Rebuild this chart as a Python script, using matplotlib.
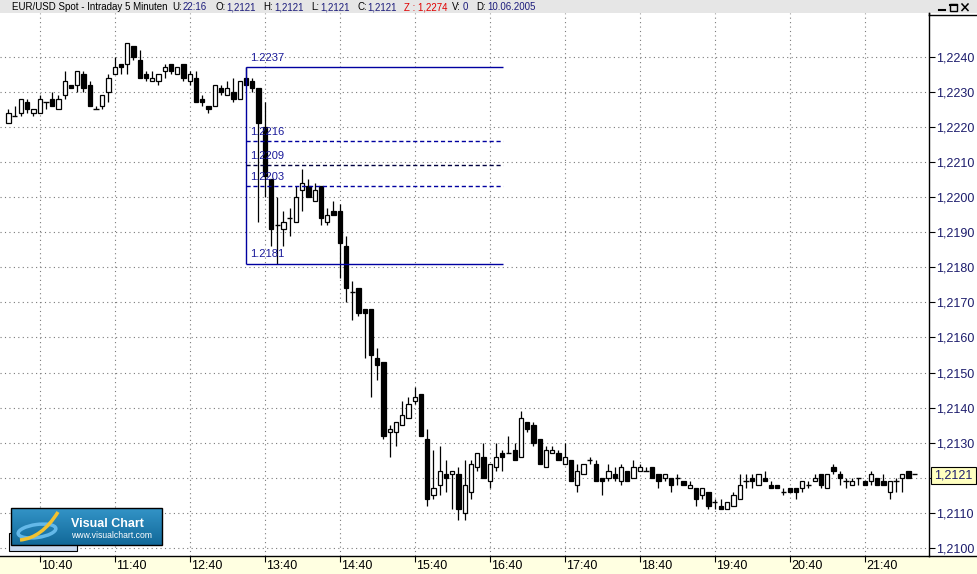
import numpy as np
import matplotlib
matplotlib.use("Agg")
import matplotlib.pyplot as plt
from matplotlib.patches import Rectangle, Ellipse
from matplotlib.path import Path
from matplotlib.patches import PathPatch
from matplotlib.ticker import FuncFormatter

plt.rcParams['font.family'] = ['Liberation Sans', 'DejaVu Sans']

# EUR/USD 5 minute bars, 10.06.2005
opens = [1.2221, 1.2223, 1.2224, 1.2227, 1.2224, 1.2224, 1.2227, 1.2228, 1.2225, 1.2229,
         1.2232, 1.2232, 1.2235, 1.2232, 1.2225, 1.2226, 1.2230, 1.2235, 1.2238, 1.2238,
         1.2243, 1.2239, 1.2235, 1.2233, 1.2233, 1.2236, 1.2238, 1.2235, 1.2238, 1.2233,
         1.2234, 1.2228, 1.2226, 1.2226, 1.2231, 1.2229, 1.2230, 1.2228, 1.2234, 1.2233,
         1.2231, 1.2220, 1.2205, 1.2192, 1.2191, 1.2194, 1.2193, 1.2202, 1.2203, 1.2199,
         1.2203, 1.2193, 1.2196, 1.2196, 1.2186, 1.2173, 1.2174, 1.2168, 1.2168, 1.2154,
         1.2153, 1.2133, 1.2133, 1.2135, 1.2137, 1.2142, 1.2144, 1.2131, 1.2115, 1.2118,
         1.2121, 1.2121, 1.2121, 1.2110, 1.2116, 1.2123, 1.2126, 1.2119, 1.2123, 1.2127,
         1.2127, 1.2128, 1.2126, 1.2136, 1.2135, 1.2131, 1.2123, 1.2127, 1.2127, 1.2124,
         1.2125, 1.2118, 1.2121, 1.2125, 1.2124, 1.2120, 1.2120, 1.2121, 1.2119, 1.2122,
         1.2120, 1.2122, 1.2122, 1.2123, 1.2121, 1.2120, 1.2120, 1.2120, 1.2119, 1.2117,
         1.2117, 1.2115, 1.2116, 1.2113, 1.2112, 1.2111, 1.2112, 1.2114, 1.2119, 1.2120,
         1.2118, 1.2120, 1.2118, 1.2118, 1.2116, 1.2117, 1.2117, 1.2117, 1.2118, 1.2119,
         1.2121, 1.2117, 1.2123, 1.2121, 1.2119, 1.2118, 1.2120, 1.2119, 1.2119, 1.2120,
         1.2119, 1.2116, 1.2119, 1.2120, 1.2122, 1.2121]
highs = [1.2225, 1.2226, 1.2228, 1.2228, 1.2225, 1.2229, 1.2227, 1.2230, 1.2229, 1.2236,
         1.2232, 1.2236, 1.2236, 1.2233, 1.2226, 1.2229, 1.2235, 1.2240, 1.2238, 1.2244,
         1.2243, 1.2242, 1.2236, 1.2236, 1.2235, 1.2238, 1.2238, 1.2237, 1.2238, 1.2236,
         1.2236, 1.2229, 1.2226, 1.2232, 1.2232, 1.2233, 1.2234, 1.2233, 1.2237, 1.2234,
         1.2231, 1.2227, 1.2205, 1.2200, 1.2196, 1.2197, 1.2203, 1.2208, 1.2205, 1.2204,
         1.2203, 1.2197, 1.2199, 1.2198, 1.2189, 1.2176, 1.2174, 1.2168, 1.2168, 1.2157,
         1.2153, 1.2135, 1.2136, 1.2142, 1.2143, 1.2146, 1.2144, 1.2134, 1.2128, 1.2129,
         1.2125, 1.2122, 1.2123, 1.2125, 1.2125, 1.2127, 1.2130, 1.2124, 1.2130, 1.2128,
         1.2132, 1.2130, 1.2139, 1.2136, 1.2136, 1.2131, 1.2129, 1.2129, 1.2128, 1.2130,
         1.2125, 1.2124, 1.2124, 1.2126, 1.2125, 1.2120, 1.2124, 1.2123, 1.2124, 1.2122,
         1.2125, 1.2124, 1.2123, 1.2123, 1.2121, 1.2121, 1.2120, 1.2121, 1.2119, 1.2119,
         1.2117, 1.2117, 1.2116, 1.2114, 1.2114, 1.2113, 1.2116, 1.2121, 1.2121, 1.2121,
         1.2121, 1.2122, 1.2119, 1.2118, 1.2117, 1.2117, 1.2117, 1.2119, 1.2119, 1.2121,
         1.2121, 1.2121, 1.2124, 1.2122, 1.2120, 1.2120, 1.2120, 1.2119, 1.2122, 1.2120,
         1.2121, 1.2119, 1.2120, 1.2121, 1.2122, 1.2121]
lows = [1.2221, 1.2223, 1.2223, 1.2224, 1.2223, 1.2224, 1.2225, 1.2226, 1.2225, 1.2228,
        1.2231, 1.2230, 1.2230, 1.2226, 1.2225, 1.2225, 1.2227, 1.2235, 1.2235, 1.2235,
        1.2239, 1.2234, 1.2233, 1.2233, 1.2232, 1.2234, 1.2235, 1.2235, 1.2233, 1.2232,
        1.2227, 1.2226, 1.2224, 1.2226, 1.2229, 1.2229, 1.2227, 1.2228, 1.2232, 1.2230,
        1.2193, 1.2200, 1.2186, 1.2181, 1.2186, 1.2189, 1.2193, 1.2196, 1.2200, 1.2199,
        1.2192, 1.2192, 1.2195, 1.2177, 1.2170, 1.2165, 1.2166, 1.2154, 1.2143, 1.2148,
        1.2131, 1.2126, 1.2129, 1.2135, 1.2137, 1.2141, 1.2132, 1.2112, 1.2114, 1.2115,
        1.2116, 1.2111, 1.2108, 1.2108, 1.2114, 1.2122, 1.2120, 1.2117, 1.2122, 1.2122,
        1.2127, 1.2125, 1.2126, 1.2133, 1.2129, 1.2124, 1.2123, 1.2127, 1.2125, 1.2124,
        1.2119, 1.2116, 1.2121, 1.2124, 1.2119, 1.2115, 1.2119, 1.2119, 1.2118, 1.2119,
        1.2120, 1.2122, 1.2122, 1.2120, 1.2117, 1.2119, 1.2116, 1.2118, 1.2118, 1.2117,
        1.2112, 1.2114, 1.2111, 1.2111, 1.2111, 1.2111, 1.2112, 1.2114, 1.2117, 1.2117,
        1.2118, 1.2119, 1.2117, 1.2117, 1.2115, 1.2116, 1.2114, 1.2116, 1.2117, 1.2119,
        1.2117, 1.2117, 1.2121, 1.2118, 1.2117, 1.2118, 1.2118, 1.2118, 1.2118, 1.2118,
        1.2118, 1.2114, 1.2116, 1.2116, 1.2120, 1.2121]
closes = [1.2224, 1.2223, 1.2228, 1.2225, 1.2225, 1.2228, 1.2227, 1.2226, 1.2228, 1.2233,
          1.2231, 1.2236, 1.2231, 1.2226, 1.2225, 1.2229, 1.2234, 1.2237, 1.2237, 1.2244,
          1.2240, 1.2234, 1.2234, 1.2234, 1.2235, 1.2237, 1.2236, 1.2237, 1.2234, 1.2235,
          1.2227, 1.2227, 1.2225, 1.2232, 1.2230, 1.2231, 1.2228, 1.2233, 1.2232, 1.2231,
          1.2221, 1.2206, 1.2191, 1.2192, 1.2193, 1.2194, 1.2200, 1.2204, 1.2200, 1.2202,
          1.2194, 1.2195, 1.2195, 1.2187, 1.2174, 1.2173, 1.2167, 1.2167, 1.2155, 1.2152,
          1.2132, 1.2134, 1.2136, 1.2138, 1.2141, 1.2143, 1.2132, 1.2114, 1.2117, 1.2122,
          1.2120, 1.2122, 1.2111, 1.2118, 1.2124, 1.2127, 1.2120, 1.2124, 1.2126, 1.2126,
          1.2127, 1.2125, 1.2137, 1.2134, 1.2130, 1.2124, 1.2128, 1.2128, 1.2125, 1.2126,
          1.2119, 1.2122, 1.2124, 1.2125, 1.2119, 1.2119, 1.2122, 1.2120, 1.2123, 1.2119,
          1.2123, 1.2123, 1.2122, 1.2120, 1.2119, 1.2121, 1.2118, 1.2120, 1.2118, 1.2118,
          1.2114, 1.2117, 1.2112, 1.2113, 1.2111, 1.2113, 1.2115, 1.2118, 1.2119, 1.2119,
          1.2121, 1.2119, 1.2117, 1.2117, 1.2116, 1.2116, 1.2116, 1.2119, 1.2118, 1.2120,
          1.2118, 1.2121, 1.2122, 1.2120, 1.2119, 1.2119, 1.2120, 1.2118, 1.2121, 1.2118,
          1.2118, 1.2119, 1.2119, 1.2121, 1.2120, 1.2121]

time_labels = ['10:40', '11:40', '12:40', '13:40', '14:40', '15:40',
               '16:40', '17:40', '18:40', '19:40', '20:40', '21:40']
time_idx = [5, 17, 29, 41, 53, 65, 77, 89, 101, 113, 125, 137]

fib_high = 1.2237
fib_low = 1.2181
fib_levels = [1.2216, 1.2209, 1.2203]
last_price = 1.2121

W, H = 978, 574
fig = plt.figure(figsize=(W / 100, H / 100), dpi=100)
fig.patch.set_facecolor('white')

# background strips (pixel coords)
bg = fig.add_axes([0, 0, 1, 1], zorder=0)
bg.set_xlim(0, W)
bg.set_ylim(H, 0)
bg.axis('off')
bg.add_patch(Rectangle((0, 0), W, 13, fc='#e6e6e6', ec='none'))
bg.add_patch(Rectangle((0, 556), W, 18, fc='#ffffe1', ec='none'))

# main chart
px_l, px_r, px_t, px_b = 0, 929, 13, 556
ax = fig.add_axes([px_l / W, 1 - px_b / H, (px_r - px_l) / W, (px_b - px_t) / H], zorder=1)
ax.set_facecolor('white')
ax.set_xlim((px_l - 8.5) / 6.25, (px_r - 8.5) / 6.25)
ax.set_ylim(1.2240 - (px_b - 56.6) / 3.51 / 10000, 1.2240 + (56.6 - px_t) / 3.51 / 10000)

o = np.array(opens)
h = np.array(highs)
l = np.array(lows)
c = np.array(closes)
x = np.arange(len(o))

ax.vlines(x, l, h, color='black', lw=0.9, zorder=3)
bw = 0.66
for i in range(len(x)):
    if abs(c[i] - o[i]) < 1e-6:
        ax.hlines(o[i], x[i] - bw / 2 - 0.08, x[i] + bw / 2 + 0.08, color='black', lw=1.0, zorder=4)
    else:
        fc = 'white' if c[i] > o[i] else 'black'
        ax.bar(x[i], abs(c[i] - o[i]), bottom=min(o[i], c[i]), width=bw,
               color=fc, edgecolor='black', linewidth=0.9, zorder=4)


def fmt_price(v, pos):
    # the last-price box hides the 1,2120 label
    if abs(v - 1.2120) < 1e-6:
        return ''
    return f"{v:.4f}".replace('.', ',')


# axes / grid
ax.set_yticks(np.arange(1.2100, 1.22405, 0.001))
ax.yaxis.tick_right()
ax.yaxis.set_major_formatter(FuncFormatter(fmt_price))
ax.tick_params(axis='y', direction='out', length=4, width=0.8, colors='black',
               labelcolor='#1c1c6c', labelsize=9, pad=1)
ax.set_xticks(time_idx)
ax.set_xticklabels([])
ax.tick_params(axis='x', direction='out', length=4, width=0.8, colors='black')
ax.grid(True, color='#7a7a7a', linestyle=(0, (1, 3)), linewidth=0.8)
ax.set_axisbelow(True)
for s in ['left', 'top']:
    ax.spines[s].set_visible(False)
for s in ['right', 'bottom']:
    ax.spines[s].set_color('black')
    ax.spines[s].set_linewidth(1)

# retracement box
bx0, bx1 = 38.0, 79.1
navy = '#0000a0'
ax.vlines(bx0, fib_low, fib_high, color=navy, lw=1, zorder=5)
ax.hlines([fib_high, fib_low], bx0, bx1, color=navy, lw=1, zorder=5)
ax.hlines([fib_levels[0], fib_levels[2]], bx0, bx1, color=navy, lw=1,
          linestyles=(0, (3, 2)), zorder=5)
ax.hlines(fib_levels[1], bx0, bx1, color='#000040', lw=1, linestyles=(0, (3, 2)), zorder=5)
for lvl in [fib_high] + fib_levels + [fib_low]:
    ax.text(bx0 + 0.6, lvl + 0.00012, f"{lvl:.4f}", fontsize=8, color='#1a1a9a',
            va='bottom', ha='left', zorder=6)

# foreground overlay (pixel coords)
fg = fig.add_axes([0, 0, 1, 1], zorder=5)
fg.set_xlim(0, W)
fg.set_ylim(H, 0)
fg.axis('off')
fg.patch.set_alpha(0)

# header text
hdr = [(12, 'EUR/USD Spot - Intraday 5 Minuten', 'black'),
       (172, 'U:', 'black'), (183, '22:16', '#1c1c7c'),
       (215, 'O:', 'black'), (226, '1,2121', '#1c1c7c'),
       (263, 'H:', 'black'), (274, '1,2121', '#1c1c7c'),
       (311, 'L:', 'black'), (320, '1,2121', '#1c1c7c'),
       (357, 'C:', 'black'), (367, '1,2121', '#1c1c7c'),
       (404, 'Z : 1,2274', '#e00000'),
       (452, 'V:', 'black'), (463, '0', '#1c1c7c'),
       (476, 'D:', 'black'), (487, '10.06.2005', '#1c1c7c')]
for hx, txt, col in hdr:
    fg.text(hx, 7, txt, fontsize=7, color=col, va='center', ha='left')

# window buttons
fg.plot([939, 945], [10, 10], color='black', lw=1.5)
fg.add_patch(Rectangle((950, 4), 7, 6.5, fc='none', ec='black', lw=1))
fg.plot([950, 957], [4.5, 4.5], color='black', lw=1.5)
fg.plot([962, 968], [4, 10.5], color='black', lw=1.1)
fg.plot([962, 968], [10.5, 4], color='black', lw=1.1)

# right axis column border
fg.plot([929, W], [15, 15], color='black', lw=1)
fg.plot([929, 929], [13, 15], color='black', lw=1)
fg.plot([929, W], [556, 556], color='black', lw=1)

# x labels
for idx, lab in zip(time_idx, time_labels):
    fg.text(8.5 + idx * 6.25 + 17, 566, lab, fontsize=9, ha='center', va='center',
            family=['Liberation Sans Narrow', 'Liberation Sans'], color='black')

# last price box
fg.add_patch(Rectangle((931, 467), 45, 17, fc='#ffffc0', ec='black', lw=0.8))
fg.text(953.5, 476, f"{last_price:.4f}".replace('.', ','), fontsize=9, color='#1c1c6c',
        ha='center', va='center')

# logo
fg.add_patch(Rectangle((9.3, 533), 67.4, 17.7, fc='#c9d9f0', ec='black', lw=0.8))
grad = np.linspace(0, 1, 50).reshape(-1, 1)
top_col = np.array([0.20, 0.58, 0.78])
bot_col = np.array([0.07, 0.41, 0.60])
img = top_col + (bot_col - top_col) * grad[:, :, None]
fg.imshow(img, extent=(10.7, 161.7, 545, 508), aspect='auto', zorder=2)
fg.add_patch(Rectangle((10.7, 508), 151, 37, fc='none', ec='black', lw=1, zorder=3))
fg.add_patch(Ellipse((37, 531), 38, 13, angle=-8, fc='none', ec='#6cc0f0', lw=2.5, alpha=0.9, zorder=3))
swoosh = Path([(20, 540), (42, 538), (58, 512)], [Path.MOVETO, Path.CURVE3, Path.CURVE3])
fg.add_patch(PathPatch(swoosh, fc='none', ec='#f2c230', lw=2.5, zorder=4))
fg.text(71, 524, 'Visual Chart', fontsize=9, fontweight='bold', color='white',
        ha='left', va='center', zorder=5)
fg.text(71, 536, 'www.visualchart.com', fontsize=6.2, color='white',
        ha='left', va='center', zorder=5)

fig.savefig('out.png', dpi=100)
